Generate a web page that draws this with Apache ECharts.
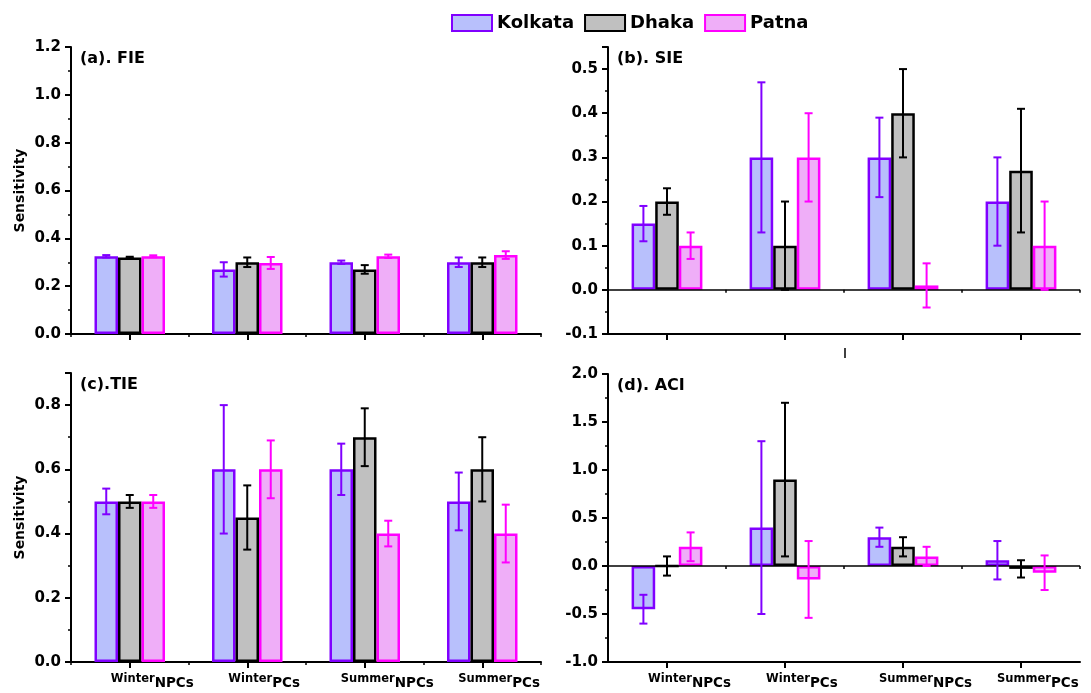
<!DOCTYPE html>
<html>
<head>
<meta charset="utf-8">
<script src="https://cdn.jsdelivr.net/npm/echarts@6/dist/echarts.min.js"></script>
<style>html,body{margin:0;padding:0;background:#fff;}#c{width:1091px;height:693px;}</style>
</head>
<body>
<div id="c"></div>
<script>
// ---------- data ----------
const cities = ['Kolkata', 'Dhaka', 'Patna'];
const catMain = ['Winter', 'Winter', 'Summer', 'Summer'];
const catSub = ['NPCs', 'PCs', 'NPCs', 'PCs'];
const panelTitles = ['(a). FIE', '(b). SIE', '(c).TIE', '(d). ACI'];

// (a) FIE
const fieKolkata = [0.325, 0.27, 0.30, 0.30];
const fieKolkataErr = [0.005, 0.03, 0.007, 0.02];
const fieDhaka = [0.32, 0.30, 0.27, 0.30];
const fieDhakaErr = [0.003, 0.02, 0.018, 0.02];
const fiePatna = [0.325, 0.297, 0.325, 0.33];
const fiePatnaErr = [0.004, 0.025, 0.007, 0.016];
// (b) SIE
const sieKolkata = [0.15, 0.30, 0.30, 0.20];
const sieKolkataErr = [0.04, 0.17, 0.09, 0.10];
const sieDhaka = [0.20, 0.10, 0.40, 0.27];
const sieDhakaErr = [0.03, 0.10, 0.10, 0.14];
const siePatna = [0.10, 0.30, 0.01, 0.10];
const siePatnaErr = [0.03, 0.10, 0.05, 0.10];
// (c) TIE
const tieKolkata = [0.50, 0.60, 0.60, 0.50];
const tieKolkataErr = [0.04, 0.20, 0.08, 0.09];
const tieDhaka = [0.50, 0.45, 0.70, 0.60];
const tieDhakaErr = [0.02, 0.10, 0.09, 0.10];
const tiePatna = [0.50, 0.60, 0.40, 0.40];
const tiePatnaErr = [0.02, 0.09, 0.04, 0.09];
// (d) ACI
const aciKolkata = [-0.45, 0.40, 0.30, 0.06];
const aciKolkataErr = [0.15, 0.90, 0.10, 0.20];
const aciDhaka = [0.00, 0.90, 0.20, -0.03];
const aciDhakaErr = [0.10, 0.80, 0.10, 0.09];
const aciPatna = [0.20, -0.14, 0.10, -0.07];
const aciPatnaErr = [0.15, 0.40, 0.10, 0.18];

// y-axis ranges: [min, max, interval]
const yRanges = [[0, 1.2, 0.2], [-0.1, 0.55, 0.1], [0, 0.9, 0.2], [-1, 2, 0.5]];

// ---------- styling ----------
const FONT = '"DejaVu Sans", "Liberation Sans", Arial, sans-serif';
const fills = ['#b8c0fc', '#c0c0c0', '#efaef8'];
const borders = ['#8000ff', '#000000', '#ff00ff'];
const BAR_FRAC = 0.2;

const panels = [
  [[fieKolkata, fieKolkataErr], [fieDhaka, fieDhakaErr], [fiePatna, fiePatnaErr]],
  [[sieKolkata, sieKolkataErr], [sieDhaka, sieDhakaErr], [siePatna, siePatnaErr]],
  [[tieKolkata, tieKolkataErr], [tieDhaka, tieDhakaErr], [tiePatna, tiePatnaErr]],
  [[aciKolkata, aciKolkataErr], [aciDhaka, aciDhakaErr], [aciPatna, aciPatnaErr]]
];

const grids = [
  {left: 71, top: 47, width: 470, height: 287},
  {left: 608, top: 47, width: 472, height: 287},
  {left: 71, top: 373, width: 470, height: 289},
  {left: 608, top: 374, width: 472, height: 288}
];

// measure subscript widths for label placement
const cv = document.createElement('canvas').getContext('2d');
function tw(t, size) { cv.font = 'bold ' + size + 'px ' + FONT; return cv.measureText(t).width; }
const rich = {
  a: {fontFamily: FONT, fontWeight: 'bold', fontSize: 11.5, color: '#000', lineHeight: 15, verticalAlign: 'bottom', padding: [0, 0, 5, 0]},
  b: {fontFamily: FONT, fontWeight: 'bold', fontSize: 13.5, color: '#000', lineHeight: 15, verticalAlign: 'bottom'}
};
catSub.forEach((s, i) => { rich['s' + i] = {width: tw(s, 13.5) + 6, lineHeight: 15, verticalAlign: 'bottom'}; });

const xAxes = [], yAxes = [], series = [], titles = [];
grids.forEach((g, p) => {
  const showLabels = p >= 2;
  xAxes.push({
    type: 'category', gridIndex: p, data: catMain.map((m, i) => m + catSub[i]),
    axisLine: {onZero: false, lineStyle: {color: '#000', width: 2}},
    axisTick: {show: true, alignWithLabel: true, inside: false, length: 6, lineStyle: {color: '#000', width: 2}},
    axisLabel: {
      show: showLabels, margin: 13, interval: 0, rich: rich,
      formatter: (v, i) => '{s' + i + '| }{a|' + catMain[i] + '}{b|' + catSub[i] + '}'
    },
    splitLine: {show: false}
  });
  xAxes.push({
    type: 'category', gridIndex: p, data: catMain.map((m, i) => m + catSub[i]), position: 'bottom',
    axisLine: {show: false},
    axisTick: {show: true, alignWithLabel: false, length: 3, lineStyle: {color: '#000', width: 1.5}},
    axisLabel: {show: false}, splitLine: {show: false}
  });
  const r = yRanges[p];
  yAxes.push({
    type: 'value', gridIndex: p, min: r[0], max: r[1], interval: r[2],
    name: (p === 0 || p === 2) ? 'Sensitivity' : '',
    nameLocation: 'middle', nameGap: 44, nameRotate: 90,
    nameTextStyle: {fontFamily: FONT, fontWeight: 'bold', fontSize: 14, color: '#000'},
    axisLine: {show: true, lineStyle: {color: '#000', width: 2}},
    axisTick: {show: true, length: 6, lineStyle: {color: '#000', width: 2}},
    minorTick: {show: true, splitNumber: 2, length: 3, lineStyle: {color: '#000', width: 1.5}},
    splitLine: {show: false}, minorSplitLine: {show: false},
    axisLabel: {
      margin: 10, fontFamily: FONT, fontWeight: 'bold', fontSize: 15, color: '#000',
      formatter: v => {
        const k = Math.round((v - r[0]) / r[2] * 1000) / 1000;
        return Number.isInteger(k) ? v.toFixed(1) : '';
      }
    }
  });
  titles.push({
    text: panelTitles[p], left: g.left + 9, top: g.top + 4, padding: 0,
    textStyle: {fontFamily: FONT, fontWeight: 'bold', fontSize: 16, color: '#000'}
  });
  panels[p].forEach((pair, c) => {
    const vals = pair[0], errs = pair[1];
    series.push({
      type: 'bar', name: cities[c], xAxisIndex: 2 * p, yAxisIndex: p,
      data: vals, barWidth: (BAR_FRAC * 100) + '%', barGap: '0%',
      itemStyle: {color: fills[c], borderColor: borders[c], borderWidth: 2.5},
      markLine: (c === 0 && (p === 1 || p === 3)) ? {
        silent: true, symbol: 'none', label: {show: false},
        lineStyle: {color: '#000', width: 1.5, type: 'solid'},
        data: [{yAxis: 0}]
      } : undefined
    });
    series.push({
      type: 'custom', name: cities[c] + ' error', xAxisIndex: 2 * p, yAxisIndex: p, z: 5,
      data: vals.map((v, i) => [i, v - errs[i], v + errs[i]]),
      encode: {x: 0, y: [1, 2]},
      renderItem: (params, api) => {
        const i = api.value(0);
        const lo = api.coord([i, api.value(1)]);
        const hi = api.coord([i, api.value(2)]);
        const band = api.size([1, 0])[0];
        const x = lo[0] + (c - 1) * BAR_FRAC * band;
        const cap = 4;
        const st = {stroke: borders[c], lineWidth: 2};
        return {type: 'group', children: [
          {type: 'line', shape: {x1: x, y1: lo[1], x2: x, y2: hi[1]}, style: st},
          {type: 'line', shape: {x1: x - cap, y1: lo[1], x2: x + cap, y2: lo[1]}, style: st},
          {type: 'line', shape: {x1: x - cap, y1: hi[1], x2: x + cap, y2: hi[1]}, style: st}
        ]};
      }
    });
  });
});

const chart = echarts.init(document.getElementById('c'), null, {renderer: 'canvas'});
chart.setOption({
  animation: false,
  backgroundColor: '#fff',
  title: titles,
  legend: {
    data: cities, left: 446, top: 9, icon: 'rect', itemWidth: 40, itemHeight: 16, itemGap: 10,
    textStyle: {fontFamily: FONT, fontWeight: 'bold', fontSize: 18, color: '#000'}
  },
  grid: grids,
  xAxis: xAxes,
  yAxis: yAxes,
  series: series,
  graphic: [{type: 'line', shape: {x1: 845, y1: 348, x2: 845, y2: 358}, style: {stroke: '#000', lineWidth: 1.5}}]
});
</script>
</body>
</html>
